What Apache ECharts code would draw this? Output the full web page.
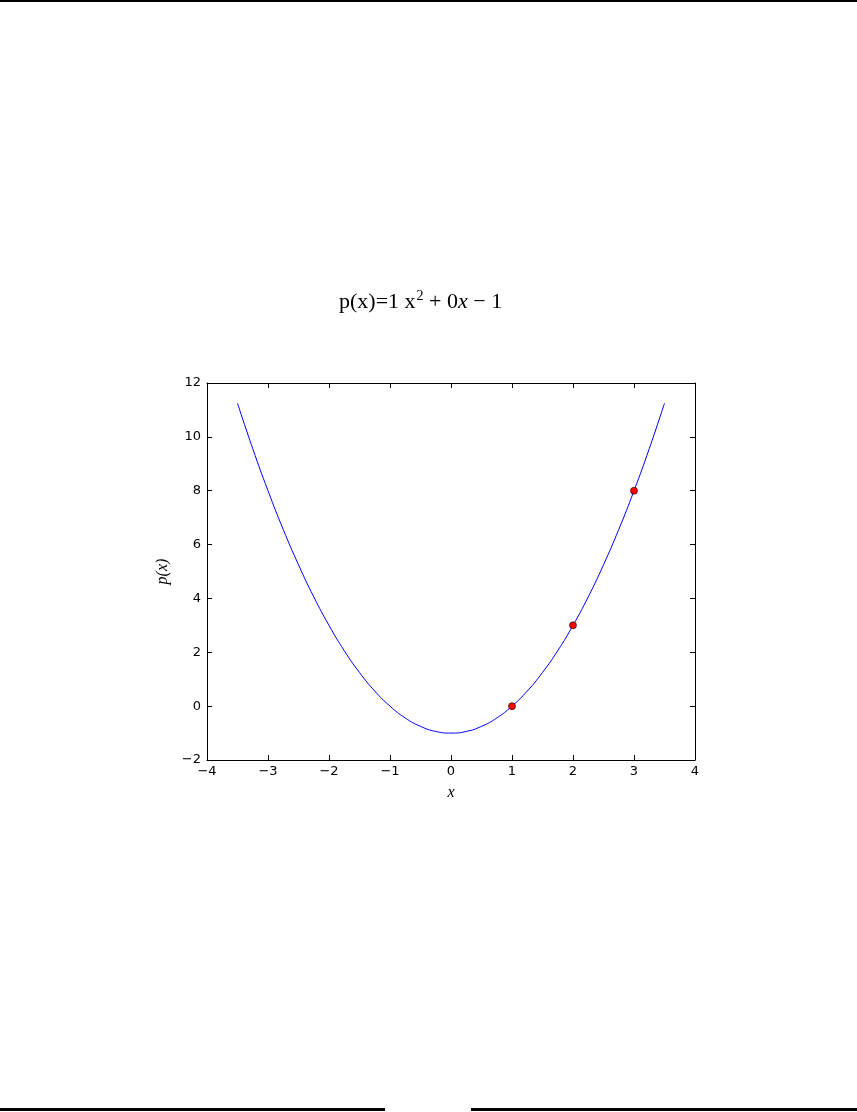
<!DOCTYPE html>
<html>
<head>
<meta charset="utf-8">
<script src="https://cdn.jsdelivr.net/npm/echarts@6/dist/echarts.min.js"></script>
<style>
  html, body { margin: 0; padding: 0; background: #fff; }
  #chart { width: 857px; height: 1112px; }
</style>
</head>
<body>
<div id="chart"></div>
<script>
// curve samples
const curveX = [-3.5, -3.25, -3, -2.75, -2.5, -2.25, -2, -1.75, -1.5, -1.25, -1, -0.75, -0.5, -0.25,
  0, 0.25, 0.5, 0.75, 1, 1.25, 1.5, 1.75, 2, 2.25, 2.5, 2.75, 3, 3.25, 3.5]
const curveY = [11.25, 9.56, 8, 6.56, 5.25, 4.06, 3, 2.06, 1.25, 0.56, 0, -0.44, -0.75, -0.94,
  -1, -0.94, -0.75, -0.44, 0, 0.56, 1.25, 2.06, 3, 4.06, 5.25, 6.56, 8, 9.56, 11.25]
// red points
const pointX = [1, 2, 3]
const pointY = [0, 3, 8]

const minus = v => String(v).replace('-', '\u2212')
const tickFont = { color: '#000', fontFamily: 'DejaVu Sans', fontSize: 13 }
const serif = { fontFamily: 'Liberation Serif', fontWeight: 'normal', color: '#000' }

const chart = echarts.init(document.getElementById('chart'))

const baseX = {
  type: 'value', min: -4, max: 4, interval: 1,
  axisLine: { onZero: false, lineStyle: { color: '#000', width: 1 } },
  axisTick: { inside: true, length: 5, lineStyle: { color: '#000' } },
  splitLine: { show: false }
}
const baseY = {
  type: 'value', min: -2, max: 12, interval: 2,
  axisLine: { onZero: false, lineStyle: { color: '#000', width: 1 } },
  axisTick: { inside: true, length: 5, lineStyle: { color: '#000' } },
  splitLine: { show: false }
}

chart.setOption({
  backgroundColor: '#fff',
  animation: false,
  title: {
    left: 334, top: 284,
    text: '{a|p(x)=1 x}{sup|2}{a| + 0}{i|x}{a| \u2212 1}',
    textStyle: {
      fontWeight: 'normal',
      rich: {
        a: Object.assign({ fontSize: 22 }, serif),
        i: Object.assign({ fontSize: 22, fontStyle: 'italic' }, serif),
        sup: Object.assign({ fontSize: 14, verticalAlign: 'top', padding: [0, 0, 12, 1] }, serif)
      }
    }
  },
  grid: { left: 207, top: 383, right: 162, bottom: 352, show: false },
  xAxis: [
    Object.assign({}, baseX, {
      position: 'bottom',
      name: 'x', nameLocation: 'middle', nameGap: 25,
      nameTextStyle: Object.assign({ fontStyle: 'italic', fontSize: 16 }, serif),
      axisLabel: Object.assign({ margin: 5, formatter: minus }, tickFont)
    }),
    Object.assign({}, baseX, { position: 'top', axisLabel: { show: false } })
  ],
  yAxis: [
    Object.assign({}, baseY, {
      position: 'left',
      name: 'p(x)', nameLocation: 'middle', nameGap: 32,
      nameTextStyle: Object.assign({ fontStyle: 'italic', fontSize: 16 }, serif),
      axisLabel: Object.assign({ margin: 6, formatter: minus }, tickFont)
    }),
    Object.assign({}, baseY, { position: 'right', axisLabel: { show: false } })
  ],
  graphic: [
    { type: 'rect', shape: { x: 0, y: 0, width: 857, height: 2 }, style: { fill: '#000' } },
    { type: 'rect', shape: { x: 0, y: 1108, width: 385, height: 3 }, style: { fill: '#000' } },
    { type: 'rect', shape: { x: 471, y: 1108, width: 386, height: 3 }, style: { fill: '#000' } }
  ],
  series: [
    {
      type: 'line', smooth: true, showSymbol: false,
      data: curveX.map((x, i) => [x, curveY[i]]),
      lineStyle: { color: '#0000ff', width: 1 }
    },
    {
      type: 'scatter', symbol: 'circle', symbolSize: 7,
      data: pointX.map((x, i) => [x, pointY[i]]),
      itemStyle: { color: '#ff0000', borderColor: '#000', borderWidth: 0.6, opacity: 1 },
      z: 3
    }
  ]
})
</script>
</body>
</html>
